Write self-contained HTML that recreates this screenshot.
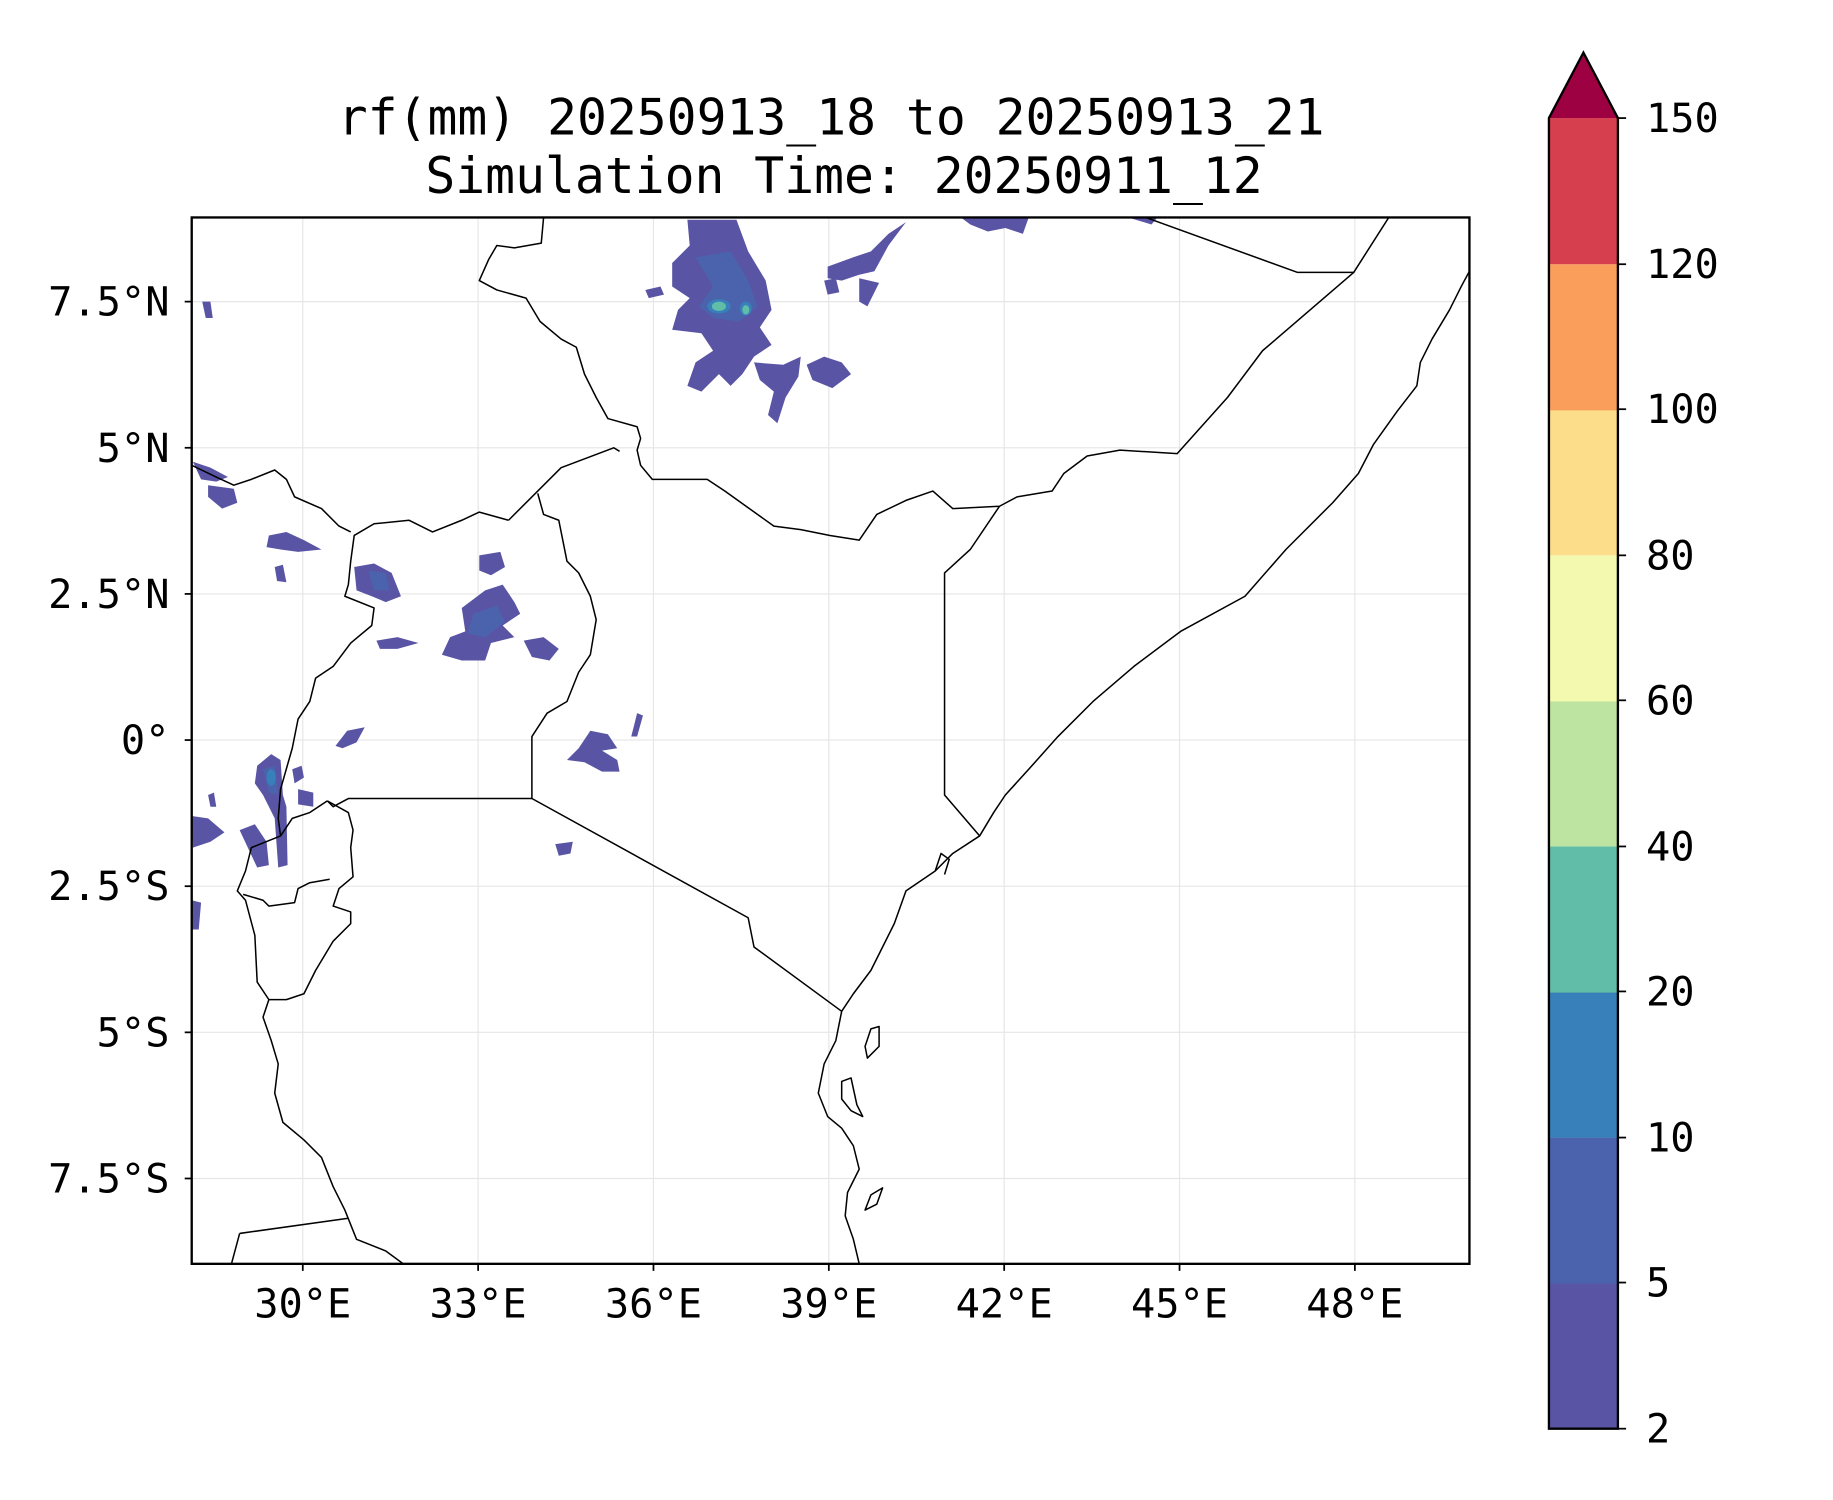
<!DOCTYPE html>
<html><head><meta charset="utf-8"><style>
html,body{margin:0;padding:0;background:#fff;}
svg{display:block;}
text{font-family:"DejaVu Sans Mono","Liberation Mono",monospace;fill:#000;}
</style></head><body>
<svg width="1833" height="1500" viewBox="0 0 1568 1283" preserveAspectRatio="none" xmlns="http://www.w3.org/2000/svg">
<rect width="1568" height="1283" fill="#fff"/>
<text x="711" y="115" font-size="42.5" text-anchor="middle">rf(mm) 20250913_18 to 20250913_21</text>
<text x="722" y="165" font-size="42.5" text-anchor="middle">Simulation Time: 20250911_12</text>
<defs><clipPath id="ax"><rect x="164" y="186" width="1093" height="895"/></clipPath></defs>
<g clip-path="url(#ax)">
<g stroke="#e6e6e6" stroke-width="1">
<line x1="259" y1="186" x2="259" y2="1081"/><line x1="409" y1="186" x2="409" y2="1081"/><line x1="559" y1="186" x2="559" y2="1081"/><line x1="709" y1="186" x2="709" y2="1081"/><line x1="859" y1="186" x2="859" y2="1081"/><line x1="1009" y1="186" x2="1009" y2="1081"/><line x1="1159" y1="186" x2="1159" y2="1081"/>
<line x1="164" y1="258" x2="1257" y2="258"/><line x1="164" y1="383" x2="1257" y2="383"/><line x1="164" y1="508" x2="1257" y2="508"/><line x1="164" y1="633" x2="1257" y2="633"/><line x1="164" y1="758" x2="1257" y2="758"/><line x1="164" y1="883" x2="1257" y2="883"/><line x1="164" y1="1008" x2="1257" y2="1008"/>
</g>
<g fill="#5954a4">
<path d="M588,188 L630,188 L640,215 L655,240 L660,265 L650,280 L660,295 L645,305 L635,320 L625,330 L615,320 L600,335 L588,330 L595,310 L610,300 L600,285 L575,282 L580,265 L590,255 L575,245 L575,225 L590,210 Z"/>
<path d="M552,248 L565,245 L568,252 L555,255 Z"/>
<path d="M645,310 L670,312 L685,305 L683,322 L672,340 L665,362 L657,355 L662,335 L650,325 Z"/>
<path d="M690,312 L705,305 L720,310 L728,320 L712,332 L695,325 Z"/>
<path d="M708,228 L730,220 L745,215 L760,200 L775,190 L760,210 L748,232 L735,235 L720,240 L708,238 Z"/>
<path d="M705,240 L715,238 L718,250 L708,252 Z"/><path d="M735,238 L752,242 L742,262 L735,258 Z"/>
<path d="M822,186 L880,186 L875,200 L860,195 L845,198 L830,192 Z"/>
<path d="M965,186 L990,186 L985,192 Z"/>
<path d="M410,475 L428,472 L432,485 L420,492 L410,488 Z"/>
<path d="M395,520 L415,505 L430,500 L440,515 L445,525 L430,535 L440,545 L420,550 L415,565 L395,565 L378,560 L385,545 L398,540 Z"/>
<path d="M448,548 L465,545 L478,555 L470,565 L455,562 Z"/>
<path d="M303,485 L320,482 L335,490 L343,510 L330,515 L318,510 L305,505 Z"/>
<path d="M230,458 L245,455 L260,462 L275,470 L255,472 L240,470 L228,468 Z"/>
<path d="M235,485 L242,483 L245,498 L237,497 Z"/>
<path d="M322,548 L340,545 L358,550 L340,555 L325,555 Z"/>
<path d="M165,395 L180,400 L195,408 L185,412 L172,410 Z"/><path d="M178,415 L200,418 L203,430 L190,435 L178,425 Z"/>
<path d="M287,638 L297,625 L312,622 L305,635 L293,640 Z"/>
<path d="M505,625 L520,628 L528,640 L515,642 L528,650 L530,660 L515,660 L500,652 L485,650 L495,640 Z"/>
<path d="M545,610 L550,612 L545,630 L540,630 Z"/>
<path d="M475,722 L490,720 L488,730 L478,732 Z"/>
<path d="M220,655 L232,645 L240,650 L242,680 L245,690 L246,740 L238,742 L235,700 L225,680 L218,670 Z"/>
<path d="M250,658 L258,655 L260,665 L252,670 Z"/><path d="M255,675 L268,678 L268,690 L255,688 Z"/>
<path d="M205,710 L218,705 L228,720 L230,740 L220,742 L212,725 Z"/>
<path d="M164,698 L178,700 L192,712 L180,720 L165,725 Z"/>
<path d="M178,680 L183,678 L185,690 L180,690 Z"/>
<path d="M164,770 L172,772 L170,795 L164,795 Z"/>
<path d="M173,258 L180,258 L182,272 L176,272 Z"/>
</g>
<g fill="#4b63ad">
<path d="M595,220 L625,215 L640,240 L648,262 L632,275 L610,272 L598,262 L610,245 Z"/>
<path d="M405,525 L425,518 L432,532 L415,545 L400,542 Z"/>
<path d="M225,658 L235,655 L238,680 L230,678 Z"/>
<path d="M315,488 L330,490 L333,505 L320,505 Z"/>
</g>
<g fill="#3880b9"><ellipse cx="615" cy="262" rx="10" ry="6"/><ellipse cx="638" cy="264" rx="5" ry="6"/><ellipse cx="232" cy="665" rx="4" ry="7"/></g>
<g fill="#62bda8"><ellipse cx="615" cy="262" rx="6" ry="4"/><ellipse cx="638" cy="265" rx="3" ry="4"/></g>
<g fill="none" stroke="#000" stroke-width="1.3" stroke-linejoin="round">
<path d="M465,186 L463,208 L440,212 L425,210 L418,222 L410,240 L425,248 L450,255 L462,275 L480,290 L493,297 L500,320 L510,340 L520,358 L545,365 L548,375 L545,385 L548,398 L558,410 L605,410 L620,420 L662,450 L685,453 L710,458 L735,462 L750,440 L775,428 L798,420 L815,435 L855,433 L870,425 L900,420 L910,405 L930,390 L958,385 L1007,388 L1050,340 L1080,300 L1158,233 L1188,186"/>
<path d="M980,186 L1110,233 L1158,233"/>
<path d="M1257,232 L1250,245 L1240,265 L1225,290 L1215,310 L1212,330 L1195,352 L1175,380 L1162,405 L1140,430 L1100,470 L1065,510 L1010,540 L970,570 L935,600 L905,630 L880,658 L860,680 L850,695 L838,715 L815,730 L800,745 L775,762 L765,790 L755,810 L745,830 L730,850 L720,865 L715,890 L705,910 L700,935 L708,955 L720,965 L730,980 L735,1000 L725,1020 L723,1040 L730,1060 L735,1081"/>
<path d="M855,433 L830,470 L808,490 L808,680 L838,715"/>
<path d="M435,445 L460,420 L480,400 L525,383 L530,386"/>
<path d="M460,422 L465,440 L478,445 L485,480 L495,490 L505,510 L510,530 L505,560 L495,575 L485,600 L468,610 L455,630 L455,683 L640,785 L645,810 L720,865"/>
<path d="M455,683 L298,683 L285,690 L280,685"/>
<path d="M435,445 L410,438 L395,445 L370,455 L350,445 L320,448 L303,458 L300,480 L298,500 L295,510 L320,520 L318,535 L300,550 L285,570 L270,580 L265,600 L255,615 L250,640 L240,675 L238,700 L240,715"/>
<path d="M164,398 L185,408 L200,415 L215,410 L235,402 L245,410 L252,425 L275,435 L290,450 L300,455"/>
<path d="M280,685 L298,695 L302,710 L300,725 L302,750 L290,760 L285,775 L300,780 L300,790 L285,805 L270,830 L260,850 L245,855 L230,855 L220,840 L218,800 L210,770 L203,762 L210,745 L215,725 L240,715 L250,700 L265,695 L280,685"/>
<path d="M208,765 L225,770 L230,775 L252,772 L255,760 L265,755 L282,752"/>
<path d="M230,855 L225,870 L232,890 L238,910 L235,935 L242,960 L260,975 L275,990 L285,1015 L295,1035 L305,1060 L330,1070 L345,1081 L360,1081"/>
<path d="M205,1055 L298,1042"/><path d="M205,1055 L198,1081"/>
<path d="M745,880 L752,878 L752,895 L742,905 L740,895 Z"/>
<path d="M720,925 L728,922 L733,945 L738,955 L728,950 L720,940 Z"/>
<path d="M745,1022 L755,1016 L750,1030 L740,1035 Z"/>
<path d="M800,745 L805,730 L812,735 L808,748"/>
</g>
</g>
<rect x="164" y="186" width="1093" height="895" fill="none" stroke="#000" stroke-width="2"/>
<g stroke="#000" stroke-width="1.5">
<line x1="259" y1="1081" x2="259" y2="1087"/><line x1="409" y1="1081" x2="409" y2="1087"/><line x1="559" y1="1081" x2="559" y2="1087"/><line x1="709" y1="1081" x2="709" y2="1087"/><line x1="859" y1="1081" x2="859" y2="1087"/><line x1="1009" y1="1081" x2="1009" y2="1087"/><line x1="1159" y1="1081" x2="1159" y2="1087"/>
<line x1="158" y1="258" x2="164" y2="258"/><line x1="158" y1="383" x2="164" y2="383"/><line x1="158" y1="508" x2="164" y2="508"/><line x1="158" y1="633" x2="164" y2="633"/><line x1="158" y1="758" x2="164" y2="758"/><line x1="158" y1="883" x2="164" y2="883"/><line x1="158" y1="1008" x2="164" y2="1008"/>
</g>
<g font-size="34.5" text-anchor="middle">
<text x="259" y="1127">30°E</text><text x="409" y="1127">33°E</text><text x="559" y="1127">36°E</text><text x="709" y="1127">39°E</text><text x="859" y="1127">42°E</text><text x="1009" y="1127">45°E</text><text x="1159" y="1127">48°E</text>
</g>
<g font-size="34.5" text-anchor="end">
<text x="145" y="270">7.5°N</text><text x="145" y="395">5°N</text><text x="145" y="520">2.5°N</text><text x="145" y="645">0°</text><text x="145" y="770">2.5°S</text><text x="145" y="895">5°S</text><text x="145" y="1020">7.5°S</text>
</g>
<g>
<rect x="1325" y="1097" width="59" height="125" fill="#5954a4"/>
<rect x="1325" y="973" width="59" height="125" fill="#4b63ad"/>
<rect x="1325" y="848" width="59" height="125" fill="#3880b9"/>
<rect x="1325" y="724" width="59" height="125" fill="#62bda8"/>
<rect x="1325" y="599" width="59" height="125" fill="#bde4a0"/>
<rect x="1325" y="475" width="59" height="125" fill="#f3f9ae"/>
<rect x="1325" y="350" width="59" height="125" fill="#fcdd8a"/>
<rect x="1325" y="226" width="59" height="125" fill="#f99e5b"/>
<rect x="1325" y="101" width="59" height="125" fill="#d6404e"/>
<path d="M1325,101 L1354.5,45 L1384,101 Z" fill="#9e0142"/>
<path d="M1325,101 L1354.5,45 L1384,101 L1384,1222 L1325,1222 Z" fill="none" stroke="#000" stroke-width="2"/>
</g>
<g stroke="#000" stroke-width="1.5">
<line x1="1384" y1="101" x2="1391" y2="101"/><line x1="1384" y1="226" x2="1391" y2="226"/><line x1="1384" y1="350" x2="1391" y2="350"/><line x1="1384" y1="475" x2="1391" y2="475"/><line x1="1384" y1="599" x2="1391" y2="599"/><line x1="1384" y1="724" x2="1391" y2="724"/><line x1="1384" y1="848" x2="1391" y2="848"/><line x1="1384" y1="973" x2="1391" y2="973"/><line x1="1384" y1="1097" x2="1391" y2="1097"/><line x1="1384" y1="1222" x2="1391" y2="1222"/>
</g>
<g font-size="34.5">
<text x="1408" y="113">150</text><text x="1408" y="238">120</text><text x="1408" y="362">100</text><text x="1408" y="487">80</text><text x="1408" y="611">60</text><text x="1408" y="736">40</text><text x="1408" y="860">20</text><text x="1408" y="985">10</text><text x="1408" y="1109">5</text><text x="1408" y="1234">2</text>
</g>
</svg>
</body></html>
